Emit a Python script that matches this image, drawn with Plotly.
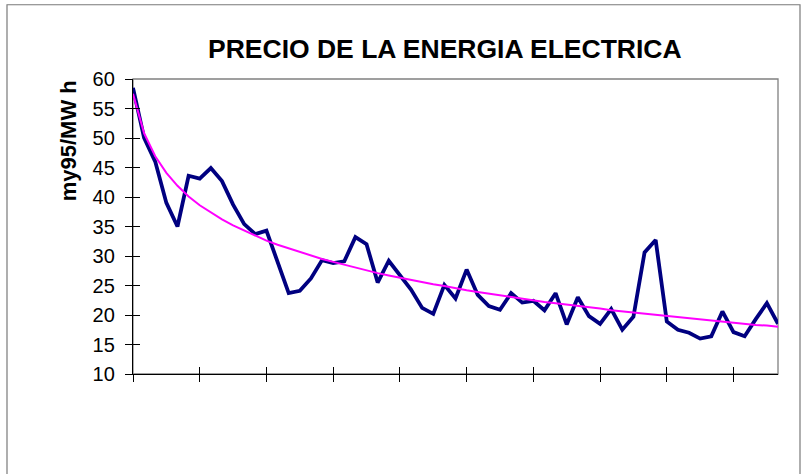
import plotly.graph_objects as go

# ---- data ----
periods = list(range(1, 60))
price = [58.5, 50.0, 46.0, 39.0, 35.0, 43.6, 43.1, 44.9, 42.7, 38.7,
         35.4, 33.7, 34.3, 29.1, 23.7, 24.1, 26.2, 29.3, 28.8, 29.1,
         33.2, 32.0, 25.5, 29.2, 26.8, 24.3, 21.2, 20.2, 25.1, 22.8,
         27.7, 23.4, 21.5, 20.9, 23.7, 22.1, 22.4, 20.8, 23.7, 18.4,
         23.0, 19.8, 18.5, 21.0, 17.5, 19.7, 30.6, 32.7, 18.9, 17.5,
         17.0, 16.0, 16.4, 20.6, 17.1, 16.4, 19.3, 22.0, 18.5]
trend = [57.5, 50.8, 46.9, 44.1, 41.9, 40.1, 38.6, 37.4, 36.2, 35.2,
         34.3, 33.4, 32.6, 31.9, 31.3, 30.6, 30.0, 29.5, 29.0, 28.5,
         28.0, 27.5, 27.1, 26.7, 26.3, 25.9, 25.6, 25.2, 24.9, 24.5,
         24.2, 23.9, 23.6, 23.3, 23.0, 22.8, 22.5, 22.2, 22.0, 21.8,
         21.5, 21.3, 21.1, 20.8, 20.6, 20.4, 20.2, 20.0, 19.8, 19.6,
         19.4, 19.2, 19.0, 18.8, 18.7, 18.5, 18.3, 18.2, 18.0]
y_ticks = [10, 15, 20, 25, 30, 35, 40, 45, 50, 55, 60]
x_ticks = list(range(1, 60, 6))
title_text = "PRECIO DE LA ENERGIA ELECTRICA"
y_title = "my95/MW h"

FONT = "Liberation Sans, Arial, sans-serif"

fig = go.Figure()
fig.add_trace(go.Scatter(x=periods, y=trend, mode="lines",
                         line=dict(color="#FF00FF", width=2),
                         xaxis="x2", yaxis="y2", hoverinfo="skip",
                         showlegend=False))
fig.add_trace(go.Scatter(x=periods, y=price, mode="lines",
                         line=dict(color="#000080", width=3.8),
                         showlegend=False))

PL, PR, PT, PB = 133, 778, 78.5, 374.5  # plot area in screen pixels
PW, PH = PR - PL, PB - PT


def px(x):
    return (x - PL) / PW


def py(y):
    return (PB - y) / PH


xr = [1, 59]
yr = [10, 60]
fig.update_layout(
    width=805, height=474,
    margin=dict(l=PL, r=805 - PR, t=PT, b=474 - PB),
    paper_bgcolor="white", plot_bgcolor="rgba(0,0,0,0)",
    font=dict(family=FONT, color="black"),
    xaxis=dict(range=xr, tickvals=x_ticks, ticks="outside", ticklen=7,
               tickcolor="black", showticklabels=False, showgrid=False,
               zeroline=False, showline=True, linecolor="black", linewidth=1.3),
    xaxis2=dict(range=xr, tickvals=x_ticks, ticks="inside", ticklen=7,
                tickcolor="black", showticklabels=False, showgrid=False,
                zeroline=False, showline=False, overlaying="x", side="bottom"),
    yaxis=dict(range=yr, tickvals=y_ticks, ticks="outside", ticklen=7,
               tickcolor="black", showgrid=False, zeroline=False,
               showline=True, linecolor="black", linewidth=1.3,
               tickfont=dict(size=20, family=FONT, color="black"),
               ticklabelstandoff=6),
    yaxis2=dict(range=yr, tickvals=y_ticks, ticks="inside", ticklen=7,
                tickcolor="black", showticklabels=False, showgrid=False,
                zeroline=False, showline=False, overlaying="y", side="left"),
    shapes=[
        dict(type="rect", xref="paper", yref="paper", x0=0, x1=1, y0=0, y1=1,
             line=dict(color="#808080", width=1.3), layer="below"),
        dict(type="rect", xref="paper", yref="paper",
             x0=px(7), x1=px(800), y0=py(490), y1=py(4),
             line=dict(color="#7a7a7a", width=1.2), layer="below"),
    ],
    annotations=[
        dict(text="<b>" + title_text + "</b>", xref="paper", yref="paper",
             x=px(445), y=py(48), xanchor="center",
             yanchor="middle", showarrow=False,
             font=dict(size=26.5, family=FONT, color="black")),
        dict(text="<b>" + y_title + "</b>", xref="paper", yref="paper",
             x=px(68), y=py(141), xanchor="center",
             yanchor="middle", textangle=-90, showarrow=False,
             font=dict(size=22, family=FONT, color="black")),
    ],
)

# remove the page's default 8px body margin so the figure sits at (0, 0)
fig.write_html("out.html",
               config={"displayModeBar": False},
               post_script="document.body.style.margin='0';"
                           "document.body.style.overflow='hidden';")
